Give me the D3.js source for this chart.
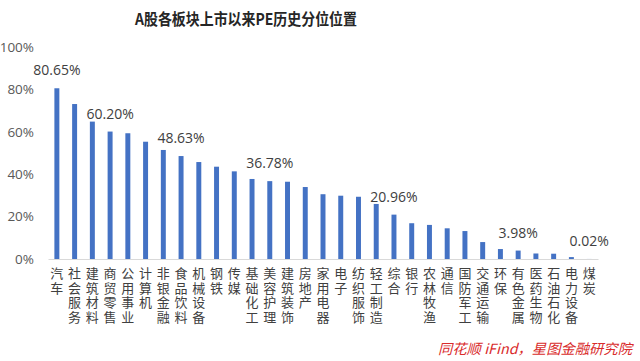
<!DOCTYPE html>
<html><head><meta charset="utf-8">
<script src="https://cdn.jsdelivr.net/npm/d3@7"></script>
<style>
html,body{margin:0;padding:0;background:#fff;}
svg{display:block;}
.vlabel{writing-mode:vertical-rl;text-orientation:upright;}
</style></head>
<body>
<svg id="chart" width="640" height="361"></svg>
<script>
const titleText = "A股各板块上市以来PE历史分位位置";
const categories = ["汽车","社会服务","建筑材料","商贸零售","公用事业","计算机","非银金融","食品饮料","机械设备","钢铁","传媒","基础化工","美容护理","建筑装饰","房地产","家用电器","电子","纺织服饰","轻工制造","综合","银行","农林牧渔","通信","国防军工","交通运输","环保","有色金属","医药生物","石油石化","电力设备","煤炭"];
const values = [80.65,73.2,64.9,60.20,59.4,55.4,51.5,48.63,45.8,43.6,41.4,37.8,36.78,36.5,34.0,30.6,29.9,29.4,26.0,20.96,16.9,16.1,14.5,13.2,8.0,4.7,3.98,2.6,2.5,0.9,0.02];
const labeled = ["汽车","商贸零售","食品饮料","美容护理","综合","有色金属","煤炭"];
const yTicks = [0,20,40,60,80,100];
const sourceText = "同花顺 iFind，星图金融研究院";

const svg = d3.select("#chart");
const x = d3.scaleBand().domain(categories).range([48,598]).paddingInner(0.72).paddingOuter(0.36);
const y = d3.scaleLinear().domain([0,100]).range([259,47.3]);

svg.append("text").attr("x",135).attr("y",25)
  .attr("font-family","'Noto Sans CJK SC'").attr("font-weight","bold")
  .attr("font-size",16).attr("fill","#262626")
  .attr("textLength",222).attr("lengthAdjust","spacingAndGlyphs")
  .text(titleText);

// y axis
const yAxis = d3.axisLeft(y).tickValues(yTicks).tickFormat(d=>d+"%").tickSize(0).tickPadding(0);
const gy = svg.append("g").attr("transform","translate(34,0)").call(yAxis);
gy.select(".domain").remove();
gy.selectAll("text").attr("font-family","'Open Sans'").attr("font-size",13.5).attr("fill","#595959");

// x axis line
const xAxis = d3.axisBottom(x).tickSize(0).tickFormat("");
const gx = svg.append("g").attr("transform","translate(0,259)").call(xAxis);
gx.select(".domain").attr("stroke","#d9d9d9").attr("stroke-width",1);

// bars
svg.append("g").selectAll("rect").data(categories).join("rect")
  .attr("x",d=>x(d)).attr("width",x.bandwidth())
  .attr("y",(d,i)=>y(values[i])).attr("height",(d,i)=>y(0)-y(values[i]))
  .attr("fill","#4472C4");

// value labels
svg.append("g").selectAll("text").data(categories.filter(c=>labeled.includes(c))).join("text")
  .attr("x",d=>x(d)+x.bandwidth()/2)
  .attr("y",d=>y(values[categories.indexOf(d)])-13)
  .attr("text-anchor","middle")
  .attr("font-family","'Open Sans'").attr("font-size",14).attr("fill","#404040")
  .text(d=>values[categories.indexOf(d)].toFixed(2)+"%");

// category labels (vertical, stacked upright)
svg.append("g").selectAll("text").data(categories).join("text")
  .attr("class","vlabel")
  .attr("x",d=>x(d)+x.bandwidth()/2)
  .attr("y",267)
  .attr("font-family","'Noto Sans CJK SC'").attr("font-size",13)
  .attr("letter-spacing",1.5)
  .attr("fill","#404040")
  .text(d=>d);

// source
svg.append("text").attr("x",438).attr("y",354)
  .attr("font-family","'Noto Sans CJK SC'").attr("font-size",14).attr("font-style","italic")
  .attr("fill","#d92b2b").attr("textLength",194).attr("lengthAdjust","spacingAndGlyphs")
  .text(sourceText);
</script>
</body></html>
